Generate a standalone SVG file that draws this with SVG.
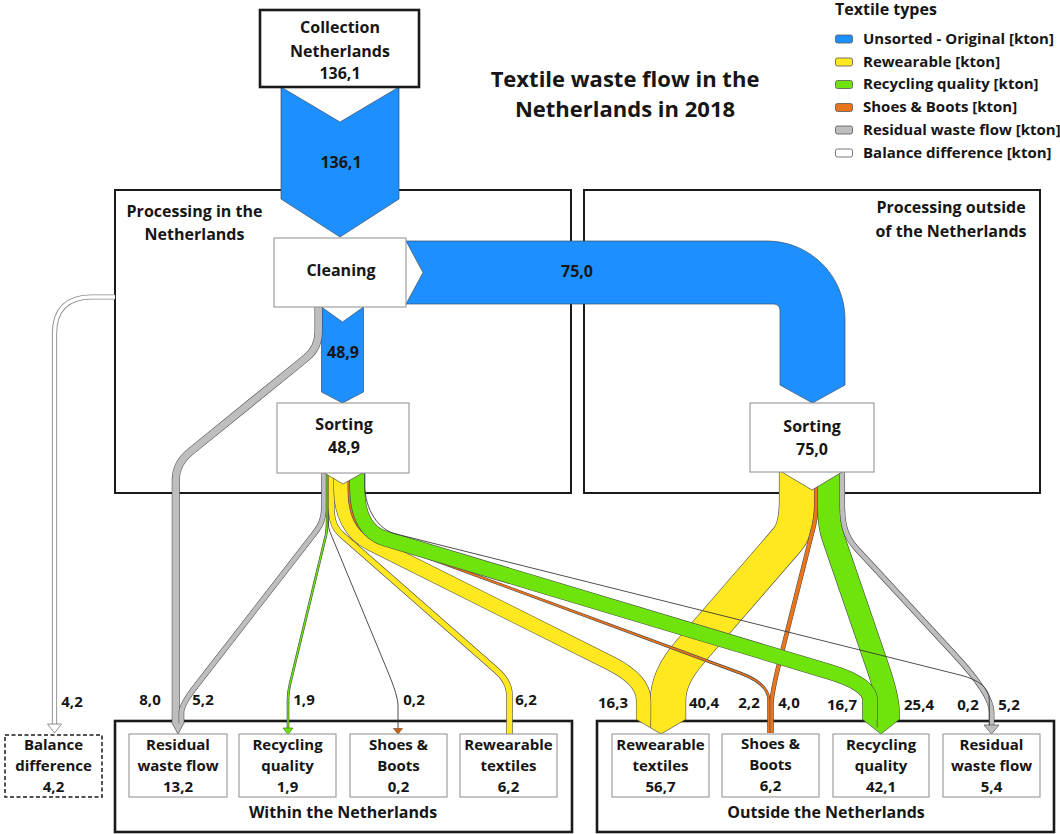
<svg xmlns="http://www.w3.org/2000/svg" width="1060" height="834" viewBox="0 0 1060 834">
<style>
text{font-family:"Open Sans","Noto Sans","DejaVu Sans",sans-serif;font-weight:700;fill:#161616}
.c{text-anchor:middle}
.s15{font-size:15px}
.s16{font-size:16px}
.s22{font-size:22px}
.frame{fill:none;stroke:#1a1a1a;stroke-width:2}
.frame3{fill:none;stroke:#1a1a1a;stroke-width:2.6}
.node{fill:#fff;stroke:#8c8c8c;stroke-width:1}
.band{fill:none;stroke-linecap:butt;stroke-linejoin:round}
.edge{stroke:#4a4a4a}
.edgeL{stroke:#8a8a8a}
.blue{fill:#1e8fff;stroke:#3c4f66;stroke-width:0.7}
.yel{stroke:#ffe81f}
.grn{stroke:#6fe40c}
.org{stroke:#e8741e}
.gry{stroke:#bebebe}
.wht{stroke:#fff}
.thin{fill:none;stroke:#3a3a3a;stroke-width:0.9}
.side{fill:none;stroke:#4a4a4a;stroke-width:0.7}
.sw{stroke:#555;stroke-width:0.8}
</style>
<defs>
<!-- flow centre lines; stroke width carries the flow size -->
<path id="p-clean-res" class="band" d="M318.5,307 V332 C318.5,345 312.2,353 306,358 L190,452 Q175.75,463.5 175.75,480 V724"/>
<path id="p-bal" class="band" d="M115,297 H92 Q54.5,297 54.5,334 V724"/>
<path id="p-l-res" class="band" d="M324.05,473 V505 C324.05,520 320.2,526 314,534 L196,686 Q181.45,704.75 181.45,712 V724"/>
<path id="p-l-rec" class="band" d="M327.1,473 V522 C327.1,528 326.5,532 326,535 L290,684 Q288,692.3 288,700 V728"/>
<path id="p-l-shoe" class="band" d="M328.3,473 V522 Q328.3,528 330,532 L388,672 Q398,696 398,705 V728"/>
<path id="p-l-rew" class="band" d="M331.3,473 V505 C331.3,520 334,528 342,535 L496,670 Q509.5,681.8 509.5,695 V734"/>
<path id="p-l-rew-x" class="band" d="M341.05,473 V490 C341.05,512 350,533 370,543 L610,663 Q643.55,679.8 643.55,700 V720"/>
<path id="p-l-shoe-x" class="band" d="M349.05,473 V490 C349.05,512 356,531 372,537 L740,673 Q768.75,683.6 768.75,700 V733"/>
<path id="p-l-rec-x" class="band" d="M357.25,473 V488 C357.25,512 365,532.5 385,538.5 L830,672 Q870,684 870,700 V720"/>
<path id="p-l-res-x" class="band" d="M364.8,473 V485 C364.8,510 379,529.75 395,533.75 L960,675 Q989.3,682.3 989.3,700 V726"/>
<path id="p-r-rew" class="band" d="M797,472 V500 C797,518 794,532 787,540 L690,652 Q668.1,677 668.1,700 V720"/>
<path id="p-r-shoe" class="band" d="M816.25,472 V505 Q816.25,515 814,525 L780,660 Q771.45,694 771.45,705 V733"/>
<path id="p-r-rec" class="band" d="M829,472 V510 Q829,525 833,537 L878,668 Q888.2,698 888.2,712 V720"/>
<path id="p-r-res" class="band" d="M842.25,472 V505 C842.25,525 846,537.2 856,548 L955,655 Q991.6,694.6 991.6,712 V725"/>
</defs>

<rect width="1060" height="834" fill="#fff"/>

<!-- containers -->
<g id="processing-nl">
<rect class="frame" x="115" y="190" width="456" height="303"/>
<text class="c s16" x="194.5" y="217">Processing in the</text>
<text class="c s16" x="194.5" y="240">Netherlands</text>
</g>
<g id="processing-abroad">
<rect class="frame" x="584" y="190" width="456" height="303"/>
<text class="c s16" x="951" y="213">Processing outside</text>
<text class="c s16" x="951" y="237">of the Netherlands</text>
</g>
<g id="within-nl">
<rect class="frame3" x="115" y="721" width="457" height="111"/>
<text class="c s16" x="343" y="818">Within the Netherlands</text>
</g>
<g id="outside-nl">
<rect class="frame3" x="597" y="721" width="457" height="111"/>
<text class="c s16" x="826" y="818">Outside the Netherlands</text>
</g>

<!-- flows -->
<g id="connectors">
<polygon class="blue" points="281,87 340,122 399,87 399,199 340,237 281,199"/>
<path class="blue" d="M406,241 H767 A78,78 0 0 1 845,319 V385 L812.5,403 L780,385 V310 A6,6 0 0 0 774,304 H406 L423,272.5 Z"/>
<polygon class="blue" points="321.5,307 342.5,322 363.5,307 363.5,392 342.5,403 321.5,392"/>

<use href="#p-bal" class="edgeL" stroke-width="5.2"/>
<use href="#p-bal" class="wht" stroke-width="3.4"/>
<use href="#p-clean-res" class="edge" stroke-width="8"/>
<use href="#p-clean-res" class="gry" stroke-width="6.9"/>

<!-- from sorting abroad -->
<use href="#p-r-rew" class="edge" stroke-width="36.2"/>
<use href="#p-r-rew" class="yel" stroke-width="35"/>
<use href="#p-r-shoe" class="edge" stroke-width="4.6"/>
<use href="#p-r-shoe" class="org" stroke-width="3.5"/>
<use href="#p-r-rec" class="edge" stroke-width="23.2"/>
<use href="#p-r-rec" class="grn" stroke-width="22"/>
<use href="#p-r-res" class="edge" stroke-width="5.6"/>
<use href="#p-r-res" class="gry" stroke-width="4.5"/>

<!-- from sorting in the Netherlands -->
<use href="#p-l-res" class="edge" stroke-width="5.6"/>
<use href="#p-l-res" class="gry" stroke-width="4.5"/>
<use href="#p-l-rec" class="edge" stroke-width="2.6"/>
<use href="#p-l-rec" class="grn" stroke-width="1.4"/>
<use href="#p-l-shoe" class="thin"/>
<use href="#p-l-rew" class="edge" stroke-width="6.5"/>
<use href="#p-l-rew" class="yel" stroke-width="5.4"/>
<use href="#p-l-rew-x" class="edge" stroke-width="15.2"/>
<use href="#p-l-rew-x" class="yel" stroke-width="14.1"/>
<use href="#p-l-shoe-x" class="edge" stroke-width="3"/>
<use href="#p-l-shoe-x" class="org" stroke-width="1.8"/>
<use href="#p-l-rec-x" class="edge" stroke-width="15.6"/>
<use href="#p-l-rec-x" class="grn" stroke-width="14.5"/>
<use href="#p-l-res-x" class="thin"/>

<!-- outlet notches under the sorting nodes -->
<polygon points="323.5,472.5 343,484 363.5,472.5" fill="#fff"/>
<polyline class="side" points="323.5,472.5 343,484 363.5,472.5"/>
<polygon points="781,471.5 812,490 843,471.5" fill="#fff"/>
<polyline class="side" points="781,471.5 812,490 843,471.5"/>

<!-- arrow tips -->
<polygon points="172.3,723.5 183.7,723.5 178,734" fill="#bebebe"/>
<polyline class="side" points="172.3,723.5 178,734 183.7,723.5"/>
<polygon points="636.5,719.5 685.6,719.5 661,734" fill="#ffe81f"/>
<polyline class="side" points="636.5,719.5 661,734 685.6,719.5"/>
<line class="side" x1="650.6" y1="719.5" x2="650.6" y2="727.5"/>
<polygon points="862.75,719.5 899.2,719.5 881,734" fill="#6fe40c"/>
<polyline class="side" points="862.75,719.5 881,734 899.2,719.5"/>
<line class="side" x1="877.2" y1="719.5" x2="877.2" y2="727.5"/>
<polygon points="283,728 293,728 288,734.5" fill="#6fe40c" stroke="#3d6b10" stroke-width="0.6"/>
<polygon points="393.5,728.5 402.5,728.5 398,734" fill="#c8621a" stroke="#6b3a10" stroke-width="0.6"/>
<polygon points="984,725 999,725 991.5,734" fill="#bebebe" stroke="#555" stroke-width="0.7"/>
<polygon points="47.5,724 61.5,724 54.5,733" fill="#fff" stroke="#777" stroke-width="0.8"/>
</g>

<!-- flow values -->
<g id="flow-labels">
<text class="c s16" x="341" y="168">136,1</text>
<text class="c s16" x="343" y="358">48,9</text>
<text class="c s16" x="577" y="277">75,0</text>
<text class="c s15" x="72" y="707">4,2</text>
<text class="c s15" x="150" y="705">8,0</text>
<text class="c s15" x="203" y="705">5,2</text>
<text class="c s15" x="304" y="705">1,9</text>
<text class="c s15" x="414" y="705">0,2</text>
<text class="c s15" x="526" y="705">6,2</text>
<text class="c s15" x="613" y="708">16,3</text>
<text class="c s15" x="704" y="708">40,4</text>
<text class="c s15" x="749" y="708">2,2</text>
<text class="c s15" x="789" y="708">4,0</text>
<text class="c s15" x="842" y="710">16,7</text>
<text class="c s15" x="919" y="710">25,4</text>
<text class="c s15" x="968" y="710">0,2</text>
<text class="c s15" x="1009" y="710">5,2</text>
</g>

<!-- process nodes -->
<g id="collection">
<rect x="260" y="10" width="159" height="77" fill="#fff" stroke="#1a1a1a" stroke-width="2.6"/>
<text class="c s16" x="340" y="33">Collection</text>
<text class="c s16" x="340" y="57">Netherlands</text>
<text class="c s16" x="340" y="79">136,1</text>
</g>
<g id="cleaning">
<rect class="node" x="274" y="238" width="132" height="69"/>
<text class="c s16" x="341" y="276">Cleaning</text>
</g>
<g id="sorting-nl">
<rect class="node" x="277" y="403" width="132" height="70"/>
<text class="c s16" x="344" y="430">Sorting</text>
<text class="c s16" x="344" y="453">48,9</text>
</g>
<g id="sorting-abroad">
<rect class="node" x="750" y="403" width="124" height="69"/>
<text class="c s16" x="812" y="432">Sorting</text>
<text class="c s16" x="812" y="455">75,0</text>
</g>

<!-- destinations -->
<g id="balance-difference">
<rect x="5" y="735" width="97" height="62" fill="#fff" stroke="#1a1a1a" stroke-width="1.5" stroke-dasharray="4 2.5"/>
<text class="c s15" x="53.5" y="750">Balance</text>
<text class="c s15" x="53.5" y="771">difference</text>
<text class="c s15" x="53.5" y="792">4,2</text>
</g>
<g id="nl-residual">
<rect class="node" x="129" y="734" width="98" height="63"/>
<text class="c s15" x="178" y="750">Residual</text>
<text class="c s15" x="178" y="771">waste flow</text>
<text class="c s15" x="178" y="792">13,2</text>
</g>
<g id="nl-recycling">
<rect class="node" x="239" y="734" width="97" height="63"/>
<text class="c s15" x="287.5" y="750">Recycling</text>
<text class="c s15" x="287.5" y="771">quality</text>
<text class="c s15" x="287.5" y="792">1,9</text>
</g>
<g id="nl-shoes">
<rect class="node" x="350" y="734" width="97" height="63"/>
<text class="c s15" x="398.5" y="750">Shoes &amp;</text>
<text class="c s15" x="398.5" y="771">Boots</text>
<text class="c s15" x="398.5" y="792">0,2</text>
</g>
<g id="nl-rewearable">
<rect class="node" x="460" y="734" width="97" height="63"/>
<text class="c s15" x="508.5" y="750">Rewearable</text>
<text class="c s15" x="508.5" y="771">textiles</text>
<text class="c s15" x="508.5" y="792">6,2</text>
</g>
<g id="abroad-rewearable">
<rect class="node" x="612" y="734" width="97" height="63"/>
<text class="c s15" x="660.5" y="750">Rewearable</text>
<text class="c s15" x="660.5" y="771">textiles</text>
<text class="c s15" x="660.5" y="792">56,7</text>
</g>
<g id="abroad-shoes">
<rect class="node" x="722" y="734" width="97" height="63"/>
<text class="c s15" x="770.5" y="749">Shoes &amp;</text>
<text class="c s15" x="770.5" y="770">Boots</text>
<text class="c s15" x="770.5" y="791">6,2</text>
</g>
<g id="abroad-recycling">
<rect class="node" x="833" y="734" width="96" height="63"/>
<text class="c s15" x="881" y="750">Recycling</text>
<text class="c s15" x="881" y="771">quality</text>
<text class="c s15" x="881" y="792">42,1</text>
</g>
<g id="abroad-residual">
<rect class="node" x="943" y="734" width="97" height="63"/>
<text class="c s15" x="991.5" y="750">Residual</text>
<text class="c s15" x="991.5" y="771">waste flow</text>
<text class="c s15" x="991.5" y="792">5,4</text>
</g>

<!-- title -->
<g id="title">
<text class="c s22" x="625" y="87">Textile waste flow in the</text>
<text class="c s22" x="625" y="117">Netherlands in 2018</text>
</g>

<!-- legend -->
<g id="legend">
<text class="s16" x="835" y="15">Textile types</text>
<rect class="sw" x="835.5" y="35" width="17" height="8" rx="2" fill="#1e8fff"/>
<rect class="sw" x="835.5" y="58" width="17" height="8" rx="2" fill="#ffe81f"/>
<rect class="sw" x="835.5" y="80.5" width="17" height="8" rx="2" fill="#6fe40c"/>
<rect class="sw" x="835.5" y="103.5" width="17" height="8" rx="2" fill="#e8741e"/>
<rect class="sw" x="835.5" y="126" width="17" height="8" rx="2" fill="#bebebe"/>
<rect class="sw" x="835.5" y="149" width="17" height="8" rx="2" fill="#fff"/>
<text class="s15" x="863" y="44">Unsorted - Original [kton]</text>
<text class="s15" x="863" y="67">Rewearable [kton]</text>
<text class="s15" x="863" y="89">Recycling quality [kton]</text>
<text class="s15" x="863" y="112">Shoes &amp; Boots [kton]</text>
<text class="s15" x="863" y="135">Residual waste flow [kton]</text>
<text class="s15" x="863" y="158">Balance difference [kton]</text>
</g>
</svg>
